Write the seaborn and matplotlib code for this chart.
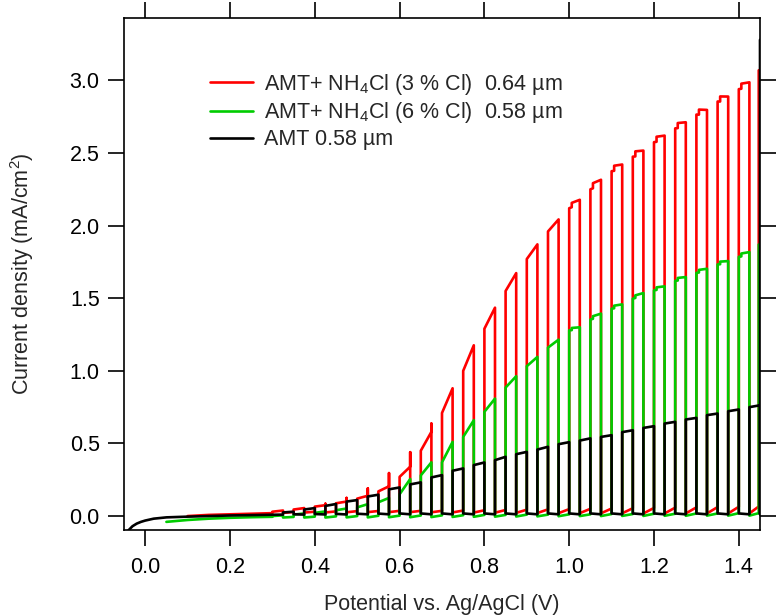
import pandas as pd
import seaborn as sns
import matplotlib.pyplot as plt

# chopped-light scan: potentials (V) where the light is switched on,
# every on / off half period lasts 0.025 V
rg_on = [0.30, 0.35, 0.40, 0.45, 0.50, 0.55, 0.60, 0.65, 0.70, 0.75, 0.80, 0.85,
         0.90, 0.95, 1.00, 1.05, 1.10, 1.15, 1.20, 1.25, 1.30, 1.35, 1.40]
blk_on = [0.325, 0.375, 0.425, 0.475, 0.525, 0.575, 0.625, 0.675, 0.725, 0.775, 0.825, 0.875,
          0.925, 0.975, 1.025, 1.075, 1.125, 1.175, 1.225, 1.275, 1.325, 1.375, 1.425]
half = 0.025
step_at = 0.006
rg_end = 1.447
blk_end = 1.45

# AMT+ NH4Cl (3 % Cl) 0.64 um
red_pre_v = [0.10, 0.15, 0.20, 0.25, 0.30]
red_pre_j = [0.000, 0.008, 0.012, 0.016, 0.020]
red_lo = [0.030, 0.045, 0.065, 0.088, 0.120, 0.170, 0.270, 0.450, 0.710, 1.000, 1.290, 1.550,
          1.770, 1.960, 2.120, 2.250, 2.375, 2.475, 2.575, 2.670, 2.765, 2.855, 2.940]
red_step = [0.0, 0.0, 0.0, 0.0, 0.0, 0.0, 0.0, 0.0, 0.0, 0.0, 0.0, 0.0,
            0.0, 0.0, 0.030, 0.035, 0.035, 0.035, 0.035, 0.035, 0.035, 0.035, 0.035]
red_hi = [0.038, 0.055, 0.075, 0.100, 0.140, 0.205, 0.340, 0.580, 0.880, 1.176, 1.435, 1.673,
          1.871, 2.043, 2.178, 2.316, 2.421, 2.517, 2.620, 2.712, 2.797, 2.889, 2.987]
red_peak = [0.038, 0.055, 0.085, 0.125, 0.190, 0.296, 0.440, 0.637, 0.880, 1.176, 1.435, 1.673,
            1.871, 2.043, 2.178, 2.316, 2.421, 2.517, 2.620, 2.712, 2.797, 2.889, 2.987]
red_dark = [0.022, 0.024, 0.025, 0.026, 0.027, 0.027, 0.027, 0.026, 0.025, 0.024, 0.023, 0.022,
            0.021, 0.020, 0.020, 0.019, 0.019, 0.018, 0.018, 0.018, 0.018, 0.018, 0.018]
red_notch = [0.028, 0.030, 0.032, 0.034, 0.035, 0.036, 0.036, 0.036, 0.038, 0.040, 0.042, 0.044,
             0.046, 0.048, 0.050, 0.052, 0.054, 0.056, 0.058, 0.060, 0.062, 0.064, 0.066]
red_last = 3.07

# AMT+ NH4Cl (6 % Cl) 0.58 um
grn_pre_v = [0.05, 0.10, 0.15, 0.20, 0.25, 0.30]
grn_pre_j = [-0.040, -0.027, -0.018, -0.012, -0.008, -0.005]
grn_lo = [0.000, 0.010, 0.022, 0.040, 0.060, 0.095, 0.150, 0.280, 0.370, 0.545, 0.718, 0.885,
          1.032, 1.160, 1.279, 1.353, 1.428, 1.497, 1.555, 1.620, 1.675, 1.733, 1.785]
grn_step = [0.0, 0.0, 0.0, 0.0, 0.0, 0.0, 0.0, 0.0, 0.0, 0.0, 0.0, 0.0,
            0.0, 0.0, 0.015, 0.018, 0.018, 0.018, 0.018, 0.018, 0.018, 0.018, 0.020]
grn_hi = [0.005, 0.018, 0.032, 0.052, 0.082, 0.125, 0.255, 0.370, 0.511, 0.660, 0.809, 0.963,
          1.096, 1.215, 1.300, 1.394, 1.458, 1.536, 1.582, 1.646, 1.703, 1.756, 1.818]
grn_dark = [-0.010, -0.010, -0.010, -0.009, -0.009, -0.008, -0.008, -0.007, -0.006, -0.005, -0.004, -0.003,
            -0.002, -0.001, 0.000, 0.000, 0.001, 0.001, 0.002, 0.002, 0.003, 0.003, 0.003]
grn_notch = [-0.006, -0.004, -0.002, 0.000, 0.002, 0.003, 0.004, 0.005, 0.006, 0.008, 0.008, 0.010,
             0.010, 0.012, 0.012, 0.014, 0.014, 0.016, 0.016, 0.018, 0.018, 0.020, 0.020]
grn_last = 1.87

# AMT 0.58 um
blk_pre_v = [-0.04, -0.03, -0.02, -0.01, 0.00, 0.02, 0.05, 0.10, 0.20, 0.30, 0.325]
blk_pre_j = [-0.100, -0.070, -0.052, -0.040, -0.031, -0.018, -0.009, -0.004, 0.004, 0.009, 0.010]
blk_lo = [0.025, 0.045, 0.070, 0.100, 0.135, 0.184, 0.218, 0.266, 0.312, 0.351, 0.385, 0.426,
          0.458, 0.495, 0.520, 0.545, 0.578, 0.607, 0.637, 0.665, 0.695, 0.722, 0.750]
blk_step = [0.0] * 23
blk_hi = [0.030, 0.055, 0.083, 0.110, 0.147, 0.197, 0.232, 0.282, 0.328, 0.369, 0.408, 0.442,
          0.477, 0.509, 0.535, 0.557, 0.591, 0.619, 0.649, 0.676, 0.706, 0.734, 0.763]
blk_dark = [0.013, 0.014, 0.015, 0.016, 0.017, 0.018, 0.018, 0.018, 0.018, 0.018, 0.018, 0.018,
            0.018, 0.018, 0.018, 0.018, 0.018, 0.018, 0.018, 0.018, 0.018, 0.018, 0.018]
blk_notch = [0.010, 0.011, 0.011, 0.012, 0.012, 0.012, 0.012, 0.012, 0.012, 0.012, 0.012, 0.012,
             0.012, 0.012, 0.012, 0.012, 0.012, 0.012, 0.012, 0.012, 0.012, 0.012, 0.012]
blk_last = 3.28

labels = ["AMT+ NH$_4$Cl (3 % Cl)  0.64 µm",
          "AMT+ NH$_4$Cl (6 % Cl)  0.58 µm",
          "AMT 0.58 µm"]
colors = ["#ff0000", "#00cc00", "#000000"]


def chopped(pre_v, pre_j, starts, lo, step, hi, peak, dark, notch, v_last, j_last):
    vs, js = list(pre_v), list(pre_j)
    for s, a, st, b, p, d, n in zip(starts, lo, step, hi, peak, dark, notch):
        pts = [(s, a)]
        if st > 0:
            # small staircase just after switching the light on
            a2 = a + (b - a - st) * step_at / half
            pts += [(s + step_at, a2), (s + step_at, a2 + st)]
        pts += [(s + half, b), (s + half, p), (s + half, d), (s + 2 * half, n)]
        for v, j in pts:
            vs.append(min(v, v_last))
            js.append(j)
    vs.append(v_last)
    js.append(j_last)
    return vs, js


curves = [
    chopped(red_pre_v, red_pre_j, rg_on, red_lo, red_step, red_hi, red_peak, red_dark, red_notch,
            rg_end, red_last),
    chopped(grn_pre_v, grn_pre_j, rg_on, grn_lo, grn_step, grn_hi, grn_hi, grn_dark, grn_notch,
            rg_end, grn_last),
    chopped(blk_pre_v, blk_pre_j, blk_on, blk_lo, blk_step, blk_hi, blk_hi, blk_dark, blk_notch,
            blk_end, blk_last),
]

frames = []
for lab, (v, j) in zip(labels, curves):
    frames.append(pd.DataFrame({"potential": v, "current": j, "sample": lab}))
df = pd.concat(frames, ignore_index=True)

sns.set_style("ticks")
plt.rcParams["font.family"] = ["Liberation Sans", "DejaVu Sans"]
plt.rcParams["mathtext.fontset"] = "custom"
plt.rcParams["mathtext.rm"] = "Liberation Sans"
plt.rcParams["mathtext.it"] = "Liberation Sans"
plt.rcParams["mathtext.default"] = "regular"

fig = plt.figure(figsize=(7.79, 6.15), dpi=100)
ax = fig.add_axes([124 / 779, 1 - 530 / 615, 636 / 779, 512 / 615])

sns.lineplot(data=df, x="potential", y="current", hue="sample", hue_order=labels,
             palette=colors, sort=False, estimator=None, linewidth=1.9, ax=ax)

ax.set_xlim(-0.05, 1.45)
ax.set_ylim(-0.096, 3.43)
ax.set_xticks([0.0, 0.2, 0.4, 0.6, 0.8, 1.0, 1.2, 1.4])
ax.set_yticks([0.0, 0.5, 1.0, 1.5, 2.0, 2.5, 3.0])
ax.xaxis.set_major_formatter(plt.FormatStrFormatter("%.1f"))
ax.yaxis.set_major_formatter(plt.FormatStrFormatter("%.1f"))
ax.tick_params(direction="out", length=11.5, width=1.2, top=True, right=True,
               labelsize=15.5, colors="black")
ax.tick_params(axis="x", pad=8)
ax.tick_params(axis="y", pad=6)
for sp in ax.spines.values():
    sp.set_linewidth(1.2)
    sp.set_color("black")

ax.set_xlabel("Potential vs. Ag/AgCl (V)", fontsize=15.5)
ax.set_ylabel("Current density (mA/cm$^2$)", fontsize=15.5)
ax.xaxis.set_label_coords(0.5, -0.125)
ax.yaxis.set_label_coords(-0.139, 0.5)

ax.legend(loc="upper left", bbox_to_anchor=(0.135, 0.895), frameon=False, fontsize=15.5,
          handlelength=2.0, handletextpad=0.5, labelspacing=0.17, borderpad=0, borderaxespad=0)

fig.savefig("out.png", dpi=100)
